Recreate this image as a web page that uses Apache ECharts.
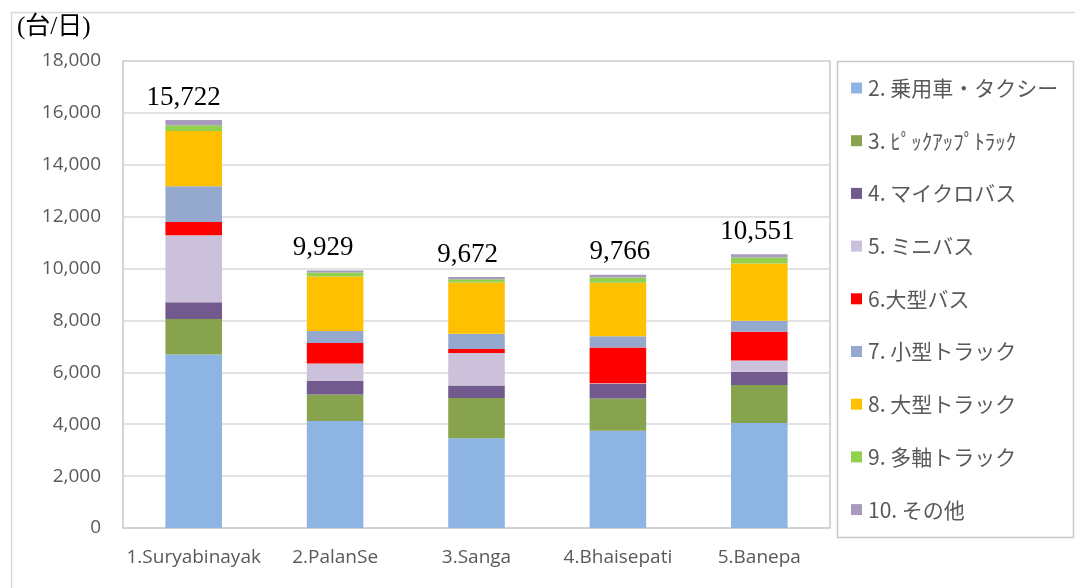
<!DOCTYPE html>
<html>
<head>
<meta charset="utf-8">
<script src="https://cdn.jsdelivr.net/npm/echarts@6/dist/echarts.min.js"></script>
<style>
  html, body { margin: 0; padding: 0; background: #fff; }
  #chart { width: 1075px; height: 588px; }
</style>
</head>
<body>
<div id="chart"></div>
<script>
// Survey points along the corridor
const categories = ['1.Suryabinayak', '2.PalanSe', '3.Sanga', '4.Bhaisepati', '5.Banepa'];

// Daily traffic volume by vehicle class (vehicles/day)
const passengerCarTaxi = [6690, 4120, 3455, 3750, 4045];
const pickupTruck      = [1370, 1030, 1553, 1245, 1463];
const microBus         = [640, 515, 489, 560, 513];
const miniBus          = [2580, 680, 1244, 20, 438];
const largeBus         = [510, 785, 154, 1385, 1103];
const smallTruck       = [1380, 460, 590, 435, 424];
const largeTruck       = [2130, 2105, 1979, 2055, 2210];
const multiAxleTruck   = [220, 155, 128, 210, 231];
const others           = [202, 79, 80, 106, 124];

// Totals shown above each bar
const totals = [15722, 9929, 9672, 9766, 10551];

const seriesNames = [
  '2. 乗用車・タクシー', '3. ﾋﾟｯｸｱｯﾌﾟﾄﾗｯｸ', '4. マイクロバス', '5. ミニバス',
  '6.大型バス', '7. 小型トラック', '8. 大型トラック', '9. 多軸トラック', '10. その他'
];
const seriesData = [
  passengerCarTaxi, pickupTruck, microBus, miniBus,
  largeBus, smallTruck, largeTruck, multiAxleTruck, others
];
const colors = ['#8EB4E3', '#88A34E', '#725A8F', '#CCC1DA', '#FF0000',
                '#95A9CF', '#FFC000', '#92D050', '#A99BBD'];

const yTicks = { min: 0, max: 18000, interval: 2000 };

// Horizontal nudge of each total label
const totalLabelShift = [-10, -12, -9, 2, -2];

const chart = echarts.init(document.getElementById('chart'));

const barSeries = seriesNames.map((name, i) => ({
  name: name,
  type: 'bar',
  stack: 'total',
  barWidth: '40%',
  data: seriesData[i],
  itemStyle: { color: colors[i] },
  emphasis: { disabled: true }
}));

// Zero-height series carrying the total labels on top of each stack
barSeries.push({
  name: 'total',
  type: 'bar',
  stack: 'total',
  barWidth: '40%',
  data: totals.map((t, i) => ({
    value: 0,
    label: { offset: [totalLabelShift[i], 0] }
  })),
  itemStyle: { color: 'transparent' },
  label: {
    show: true,
    position: 'top',
    distance: 9,
    formatter: (p) => totals[p.dataIndex].toLocaleString('en-US'),
    fontFamily: '"Liberation Serif", "Times New Roman", serif',
    fontSize: 27,
    color: '#000'
  },
  tooltip: { show: false }
});

chart.setOption({
  animation: false,
  backgroundColor: '#fff',
  textStyle: { fontFamily: '"Noto Sans CJK JP", "Noto Sans", sans-serif' },
  grid: {
    left: 123, top: 61, right: 245, bottom: 60,
    show: true, borderColor: '#C9C9C9', borderWidth: 1.5
  },
  legend: {
    orient: 'vertical',
    left: 846,
    top: 72,
    itemWidth: 11,
    itemHeight: 11,
    itemGap: 30.7,
    icon: 'rect',
    data: seriesNames,
    selectedMode: false,
    textStyle: {
      fontSize: 21,
      lineHeight: 22,
      color: '#595959',
      fontFamily: '"Noto Sans CJK JP", sans-serif',
      padding: [0, 0, 0, 1]
    }
  },
  graphic: [
    { type: 'rect', shape: { x: 11.5, y: 12.5, width: 1080, height: 600 },
      style: { fill: 'none', stroke: '#D9D9D9', lineWidth: 1.5 }, silent: true, z: -1 },
    { type: 'rect', shape: { x: 837.5, y: 61.5, width: 236, height: 476 },
      style: { fill: 'none', stroke: '#C9C9C9', lineWidth: 1.5 }, silent: true },
    { type: 'text', left: 17, top: 15,
      style: { text: '(台/日)', font: '25px "Liberation Serif", "Noto Sans CJK JP", serif', fill: '#000' } }
  ],
  xAxis: {
    type: 'category',
    data: categories,
    axisLine: { lineStyle: { color: '#D0D0D0', width: 1.5 } },
    axisTick: { show: false },
    axisLabel: {
      interval: 0,
      fontSize: 19,
      color: '#595959',
      margin: 20,
      fontFamily: '"Open Sans", "Noto Sans", sans-serif'
    }
  },
  yAxis: {
    type: 'value',
    min: yTicks.min,
    max: yTicks.max,
    interval: yTicks.interval,
    axisLine: { show: false },
    axisTick: { show: false },
    splitLine: { lineStyle: { color: '#D9D9D9', width: 1.5 } },
    axisLabel: {
      fontSize: 19,
      color: '#595959',
      margin: 22,
      fontFamily: '"Open Sans", "Noto Sans", sans-serif',
      formatter: (v) => v.toLocaleString('en-US')
    }
  },
  series: barSeries
});
</script>
</body>
</html>
